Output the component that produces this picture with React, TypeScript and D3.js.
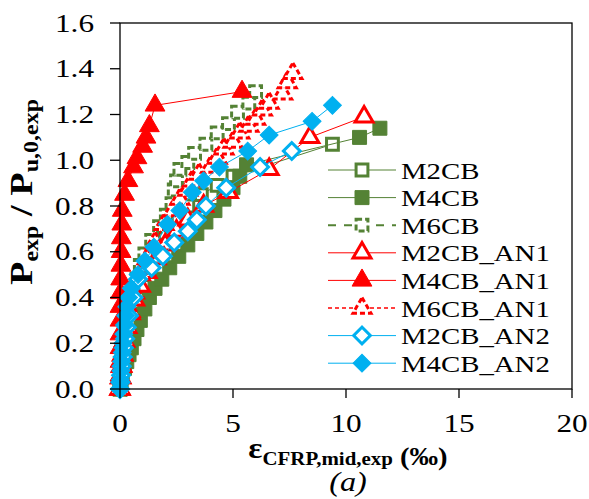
import React from "react";
import * as d3 from "d3";

const W = 589, H = 499;

// ---- data ----
const m2cbX = [0, 0.02, 0.05, 0.08, 0.12, 0.18, 0.25, 0.35, 0.5, 0.7, 0.95, 1.25, 1.6, 2.0, 2.5, 3.0, 3.6, 4.3, 5.0, 9.4];
const m2cbY = [0, 0.04, 0.08, 0.12, 0.17, 0.22, 0.27, 0.32, 0.38, 0.44, 0.5, 0.56, 0.62, 0.68, 0.74, 0.8, 0.85, 0.89, 0.93, 1.07];

const m4cbX = [0, 0.05, 0.1, 0.2, 0.3, 0.4, 0.5, 0.62, 0.75, 0.9, 1.1, 1.3, 1.55, 1.85, 2.2, 2.6, 3.0, 3.4, 3.8, 4.2, 4.6, 5.0, 5.3, 5.6, 10.6, 11.5];
const m4cbY = [0, 0.03, 0.06, 0.09, 0.12, 0.15, 0.18, 0.22, 0.26, 0.3, 0.35, 0.4, 0.44, 0.48, 0.53, 0.58, 0.63, 0.68, 0.73, 0.78, 0.83, 0.88, 0.93, 0.98, 1.1, 1.14];

const m6cbX = [0, 0.05, 0.1, 0.15, 0.2, 0.3, 0.4, 0.5, 0.6, 0.75, 0.9, 1.1, 1.4, 1.75, 2.05, 2.3, 2.4, 2.5, 2.65, 3.0, 3.3, 3.8, 4.3, 4.8, 5.2, 5.7, 6.0];
const m6cbY = [0, 0.05, 0.1, 0.15, 0.2, 0.25, 0.3, 0.36, 0.42, 0.48, 0.54, 0.59, 0.65, 0.71, 0.76, 0.81, 0.87, 0.91, 0.96, 0.99, 1.03, 1.07, 1.12, 1.16, 1.21, 1.25, 1.3];

const m2cbAn1X = [0, 0.03, 0.07, 0.12, 0.2, 0.3, 0.45, 0.65, 0.9, 1.2, 1.6, 2.0, 2.5, 3.0, 3.7, 4.8, 6.6, 8.4, 10.8];
const m2cbAn1Y = [0, 0.05, 0.1, 0.15, 0.21, 0.27, 0.33, 0.39, 0.45, 0.51, 0.57, 0.63, 0.69, 0.74, 0.8, 0.86, 0.96, 1.1, 1.19];

const m4cbAn1X = [0, 0, 0, 0, 0, 0, 0, 0.02, 0.03, 0.04, 0.05, 0.06, 0.08, 0.1, 0.2, 0.35, 0.6, 0.75, 1.0, 1.15, 1.3, 1.55, 5.4];
const m4cbAn1Y = [0, 0.06, 0.12, 0.18, 0.24, 0.3, 0.36, 0.42, 0.48, 0.54, 0.6, 0.66, 0.72, 0.78, 0.85, 0.91, 0.97, 1.01, 1.06, 1.1, 1.15, 1.24, 1.3];

const m6cbAn1X = [0, 0.03, 0.07, 0.12, 0.2, 0.3, 0.45, 0.65, 0.9, 1.2, 1.55, 1.95, 2.35, 2.65, 3.0, 3.2, 3.5, 4.0, 4.3, 4.6, 5.0, 5.3, 5.7, 6.0, 6.3, 6.6, 7.2, 7.4, 7.65];
const m6cbAn1Y = [0, 0.05, 0.1, 0.15, 0.21, 0.27, 0.34, 0.42, 0.5, 0.57, 0.64, 0.72, 0.78, 0.83, 0.87, 0.91, 0.94, 0.97, 1.01, 1.05, 1.08, 1.12, 1.15, 1.18, 1.22, 1.25, 1.29, 1.34, 1.38];

const m2cbAn2X = [0, 0.02, 0.05, 0.08, 0.12, 0.17, 0.23, 0.3, 0.4, 0.6, 0.8, 1.4, 1.9, 2.4, 3.0, 3.4, 3.8, 4.7, 6.2, 7.6];
const m2cbAn2Y = [0, 0.03, 0.06, 0.1, 0.14, 0.18, 0.22, 0.27, 0.32, 0.4, 0.48, 0.53, 0.58, 0.64, 0.69, 0.74, 0.8, 0.88, 0.97, 1.04];

const m4cbAn2X = [0, 0.02, 0.04, 0.07, 0.1, 0.13, 0.17, 0.2, 0.25, 0.3, 0.38, 0.5, 0.8, 1.1, 1.5, 2.1, 2.65, 3.2, 3.7, 4.4, 5.65, 6.6, 8.5, 9.4];
const m4cbAn2Y = [0, 0.04, 0.08, 0.12, 0.16, 0.2, 0.24, 0.28, 0.32, 0.36, 0.4, 0.44, 0.5, 0.56, 0.62, 0.72, 0.78, 0.86, 0.91, 0.97, 1.04, 1.11, 1.17, 1.24];

const seriesNames = ["M2CB", "M4CB", "M6CB", "M2CB_AN1", "M4CB_AN1", "M6CB_AN1", "M2CB_AN2", "M4CB_AN2"];
const xTicks = [0, 5, 10, 15, 20];
const yTicks = [0, 0.2, 0.4, 0.6, 0.8, 1.0, 1.2, 1.4, 1.6];

// ---- styles ----
const GREEN = "#548235";
const RED = "#FF0000";
const BLUE = "#00B0F0";

type Style = {
  color: string;
  shape: "square" | "triangle" | "diamond";
  filled: boolean;
  lineDash?: string;
  lineWidth: number;
  markerDash?: string;
};

const styles: Style[] = [
  { color: GREEN, shape: "square", filled: false, lineWidth: 1 },
  { color: GREEN, shape: "square", filled: true, lineWidth: 1 },
  { color: GREEN, shape: "square", filled: false, lineWidth: 2, lineDash: "8,8", markerDash: "6,3" },
  { color: RED, shape: "triangle", filled: false, lineWidth: 1 },
  { color: RED, shape: "triangle", filled: true, lineWidth: 1 },
  { color: RED, shape: "triangle", filled: false, lineWidth: 1.5, lineDash: "4,3", markerDash: "5,3" },
  { color: BLUE, shape: "diamond", filled: false, lineWidth: 1 },
  { color: BLUE, shape: "diamond", filled: true, lineWidth: 1 },
];

const seriesData: [number[], number[]][] = [
  [m2cbX, m2cbY],
  [m4cbX, m4cbY],
  [m6cbX, m6cbY],
  [m2cbAn1X, m2cbAn1Y],
  [m4cbAn1X, m4cbAn1Y],
  [m6cbAn1X, m6cbAn1Y],
  [m2cbAn2X, m2cbAn2Y],
  [m4cbAn2X, m4cbAn2Y],
];

const x = d3.scaleLinear().domain([0, 20]).range([120, 572]);
const y = d3.scaleLinear().domain([0, 1.6]).range([389, 23]);

function markerPath(s: Style) {
  if (s.shape === "square") return d3.symbol().type(d3.symbolSquare).size(s.filled ? 196 : 140)()!;
  if (s.shape === "triangle") return d3.symbol().type(d3.symbolTriangle).size(s.filled ? 170 : 140)()!;
  return d3.symbol().type(d3.symbolSquare).size(s.filled ? 160 : 140)()!;
}

function Marker({ s, cx, cy }: { s: Style; cx: number; cy: number }) {
  const rot = s.shape === "diamond" ? " rotate(45)" : "";
  return (
    <path
      d={markerPath(s)}
      transform={`translate(${cx},${cy})${rot}`}
      fill={s.filled ? s.color : "#fff"}
      stroke={s.color}
      strokeWidth={s.filled ? 1 : 3}
      strokeDasharray={s.markerDash}
    />
  );
}

const line = d3.line<[number, number]>().x((d) => x(d[0])).y((d) => y(d[1]));

const FONT = "'Liberation Serif', 'Times New Roman', serif";

export default function App() {
  const legX = 328, legX2 = 396, legTextX = 401, legY0 = 170, legDy = 27.6;
  return (
    <svg width={W} height={H} style={{ position: "absolute", left: 0, top: 0, background: "#fff" }} fontFamily={FONT}>
      <rect x={0} y={0} width={W} height={H} fill="#fff" />
      {/* series */}
      {seriesData.map(([xs, ys], i) => {
        const s = styles[i];
        const pts = xs.map((v, k) => [v, ys[k]] as [number, number]);
        return (
          <g key={seriesNames[i]}>
            <path d={line(pts)!} fill="none" stroke={s.color} strokeWidth={s.lineWidth} strokeDasharray={s.lineDash} />
            {pts.map((p, k) => (
              <Marker key={k} s={s} cx={x(p[0])} cy={y(p[1])} />
            ))}
          </g>
        );
      })}
      {/* frame */}
      <rect x={120} y={23} width={452} height={366} fill="none" stroke="#000" strokeWidth={1.3} />
      {/* y ticks */}
      {yTicks.map((t) => (
        <g key={"y" + t}>
          <line x1={110} x2={120} y1={y(t)} y2={y(t)} stroke="#000" strokeWidth={1.3} />
          <text transform={`translate(94,${y(t) + 8.5}) scale(1.25,1)`} textAnchor="end" fontSize={25} fill="#000">
            {t.toFixed(1)}
          </text>
        </g>
      ))}
      {/* x ticks */}
      {xTicks.map((t) => (
        <g key={"x" + t}>
          <line x1={x(t)} x2={x(t)} y1={389} y2={398} stroke="#000" strokeWidth={1.3} />
          <text transform={`translate(${x(t)},432) scale(1.25,1)`} textAnchor="middle" fontSize={25} fill="#000">
            {t}
          </text>
        </g>
      ))}
      {/* y title */}
      <text transform="translate(32,192) rotate(-90) scale(1.2,1)" textAnchor="middle" fontSize={32} fontWeight="bold" fill="#000">
        P<tspan fontSize={20} dy={6}>exp</tspan>
        <tspan dy={-6}> / P</tspan>
        <tspan fontSize={20} dy={6}>u,0,exp</tspan>
      </text>
      {/* x title */}
      <text transform="translate(348,465) scale(1.1,1)" textAnchor="middle" fill="#000" fontWeight="bold">
        <tspan fontSize={30} dy={-7}>ε</tspan>
        <tspan fontSize={19} dy={7}>CFRP,mid,exp</tspan>
        <tspan fontSize={26}> (‰)</tspan>
      </text>
      <text transform="translate(348,491) scale(1.15,1)" textAnchor="middle" fontSize={28} fontStyle="italic" fill="#000">
        (a)
      </text>
      {/* legend */}
      {seriesNames.map((n, i) => {
        const s = styles[i];
        const ly = legY0 + i * legDy;
        return (
          <g key={"leg" + n}>
            <line x1={legX} x2={legX2} y1={ly} y2={ly} stroke={s.color} strokeWidth={s.lineWidth} strokeDasharray={s.lineDash} />
            <Marker s={s} cx={(legX + legX2) / 2} cy={ly} />
            <text transform={`translate(${legTextX},${ly + 8.5}) scale(1.2,1)`} fontSize={24} fill="#000">
              {n}
            </text>
          </g>
        );
      })}
    </svg>
  );
}
